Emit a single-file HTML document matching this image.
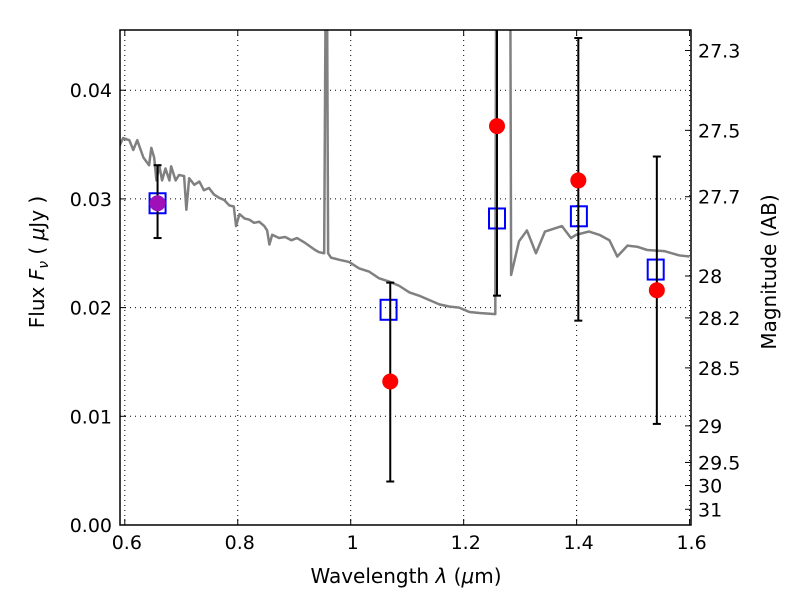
<!DOCTYPE html>
<html><head><meta charset="utf-8"><style>
body{margin:0;background:#fff;}
svg text{font-family:"DejaVu Sans","Liberation Sans",sans-serif;}
</style></head><body>
<svg id="chart" width="800" height="600" xmlns="http://www.w3.org/2000/svg">
<rect width="800" height="600" fill="#fff"/>
<g id="grid"></g>
<g id="plot"></g>
<g id="axes"></g>
<text x="406" y="583" font-size="20" text-anchor="middle">Wavelength  <tspan font-style="italic">λ</tspan> (<tspan font-style="italic">μ</tspan>m)</text>
<text transform="translate(44,262) rotate(-90)" font-size="20" text-anchor="middle">Flux  <tspan font-style="italic">F</tspan><tspan font-style="italic" font-size="14" dy="4">ν</tspan><tspan dy="-4">  ( </tspan><tspan font-style="italic">μ</tspan>Jy )</text>
<text transform="translate(776,272) rotate(-90)" font-size="20" text-anchor="middle">Magnitude (AB)</text>
</svg>
<script>
const specWave=[0.590,0.597,0.608,0.615,0.622,0.633,0.643,0.647,0.652,0.656,0.661,0.666,0.672,0.679,0.682,0.690,0.696,0.705,0.709,0.714,0.723,0.732,0.740,0.749,0.758,0.767,0.776,0.785,0.793,0.797,0.803,0.812,0.820,0.829,0.838,0.847,0.852,0.856,0.861,0.873,0.884,0.895,0.905,0.918,0.926,0.937,0.944,0.953,0.9557,0.958,0.960,0.965,0.980,0.997,1.015,1.033,1.050,1.068,1.086,1.104,1.121,1.139,1.157,1.174,1.192,1.210,1.228,1.256,1.258,1.282,1.284,1.298,1.312,1.328,1.344,1.374,1.390,1.399,1.422,1.440,1.458,1.472,1.490,1.507,1.525,1.555,1.582,1.600];
const specFlux=[0.0348,0.0356,0.0354,0.0345,0.0354,0.0338,0.0331,0.0347,0.0338,0.0317,0.0331,0.0317,0.0328,0.0317,0.0330,0.0317,0.0322,0.0321,0.0290,0.0319,0.0313,0.0316,0.0308,0.0310,0.0304,0.0301,0.0299,0.0294,0.0293,0.0275,0.0286,0.0282,0.0281,0.0278,0.0279,0.0275,0.0271,0.0258,0.0267,0.0264,0.0265,0.0262,0.0264,0.0260,0.0257,0.0253,0.0251,0.0250,0.0500,0.0500,0.0250,0.0246,0.0244,0.0242,0.0236,0.0233,0.0227,0.0224,0.0220,0.0214,0.0211,0.0207,0.0203,0.0201,0.0200,0.0196,0.0195,0.0194,0.0600,0.0600,0.0230,0.0261,0.0271,0.0250,0.0270,0.0275,0.0264,0.0267,0.0270,0.0267,0.0262,0.0247,0.0257,0.0256,0.0253,0.0252,0.0248,0.0247];
const obsWave=[0.658,1.070,1.259,1.403,1.542];
const obsFlux=[0.0296,0.0132,0.0367,0.0317,0.0216];
const errLow=[0.0264,0.0040,0.0211,0.0188,0.0093];
const errHigh=[0.0331,0.0223,0.0600,0.0448,0.0339];
const modelWave=[0.658,1.067,1.259,1.404,1.540];
const modelFlux=[0.0296,0.0198,0.0282,0.0284,0.0235];
const xTicks=[0.6,0.8,1.0,1.2,1.4,1.6];
const xTickLabels=["0.6","0.8","1","1.2","1.4","1.6"];
const yTicks=[0,0.01,0.02,0.03,0.04];
const yTickLabels=["0.00","0.01","0.02","0.03","0.04"];
const magTicks=[27.3,27.5,27.7,28,28.2,28.5,29,29.5,30,31];
const magTickLabels=["27.3","27.5","27.7","28","28.2","28.5","29","29.5","30","31"];

const L=120,R=691,T=30,B=525,X0=0.5915,X1=1.6025,Y0=0,Y1=0.04554;
const sx=v=>L+(v-X0)/(X1-X0)*(R-L);
const sy=v=>B-(v-Y0)/(Y1-Y0)*(B-T);
const NS="http://www.w3.org/2000/svg";
function mk(tag,parent,attrs){const e=document.createElementNS(NS,tag);for(const k in attrs)e.setAttribute(k,attrs[k]);parent.appendChild(e);return e;}
const grid=document.getElementById('grid'),plot=document.getElementById('plot'),axes=document.getElementById('axes');

const clip=mk('clipPath',document.getElementById('chart'),{id:'clp'});
mk('rect',clip,{x:L,y:T,width:R-L,height:B-T});
plot.setAttribute('clip-path','url(#clp)');

xTicks.forEach((t,i)=>{const x=sx(t);
 const g=mk('line',grid,{x1:x,x2:x,y1:T,y2:B,stroke:'#000','stroke-width':1,'stroke-dasharray':'1,4'});
 
 mk('line',axes,{x1:x,x2:x,y1:B,y2:B-6,stroke:'#000'});mk('line',axes,{x1:x,x2:x,y1:T,y2:T+6,stroke:'#000'});
 const tx=mk('text',axes,{x:x+2,y:B+24,'font-size':19,'text-anchor':'middle'});tx.textContent=xTickLabels[i];
 });
yTicks.forEach((t,i)=>{const y=sy(t);
 const g=mk('line',grid,{x1:L,x2:R,y1:y,y2:y,stroke:'#000','stroke-width':1,'stroke-dasharray':'1,4'});
 
 mk('line',axes,{x1:L,x2:L+6,y1:y,y2:y,stroke:'#000'});
 const tx=mk('text',axes,{x:L-8,y:y+7,'font-size':19,'text-anchor':'end'});tx.textContent=yTickLabels[i];
 });
magTicks.forEach((m,i)=>{const y=sy(Math.pow(10,(23.9-m)/2.5));
 mk('line',axes,{x1:R,x2:R-6,y1:y,y2:y,stroke:'#000'});
 const tx=mk('text',axes,{x:R+7,y:y+7,'font-size':19,'text-anchor':'start'});tx.textContent=magTickLabels[i];
 });

const spec=mk('polyline',plot,{points:specWave.map((w,i)=>sx(w)+','+sy(specFlux[i])).join(' '),fill:'none',stroke:'#808080','stroke-width':2.5,'stroke-linejoin':'round'});


modelWave.forEach((w,i)=>{const x=sx(w),y=sy(modelFlux[i]);
 const r=mk('rect',plot,{x:x-8,y:y-10,width:16,height:20,fill:'none',stroke:'#0000ff','stroke-width':2});
 });
obsWave.forEach((w,i)=>{const x=sx(w);
 const g=mk('g',plot,{});
 
 mk('line',g,{x1:x,x2:x,y1:sy(errLow[i]),y2:sy(errHigh[i]),stroke:'#000','stroke-width':2});
 mk('line',g,{x1:x-4,x2:x+4,y1:sy(errLow[i]),y2:sy(errLow[i]),stroke:'#000','stroke-width':2});
 mk('line',g,{x1:x-4,x2:x+4,y1:sy(errHigh[i]),y2:sy(errHigh[i]),stroke:'#000','stroke-width':2});
 const c=mk('circle',plot,{cx:x,cy:sy(obsFlux[i]),r:8,fill:i===0?'#a010b8':'#ff0000'});
 });
mk('rect',axes,{x:L,y:T,width:R-L,height:B-T,fill:'none',stroke:'#000','stroke-width':1.5});
</script>
</body></html>
